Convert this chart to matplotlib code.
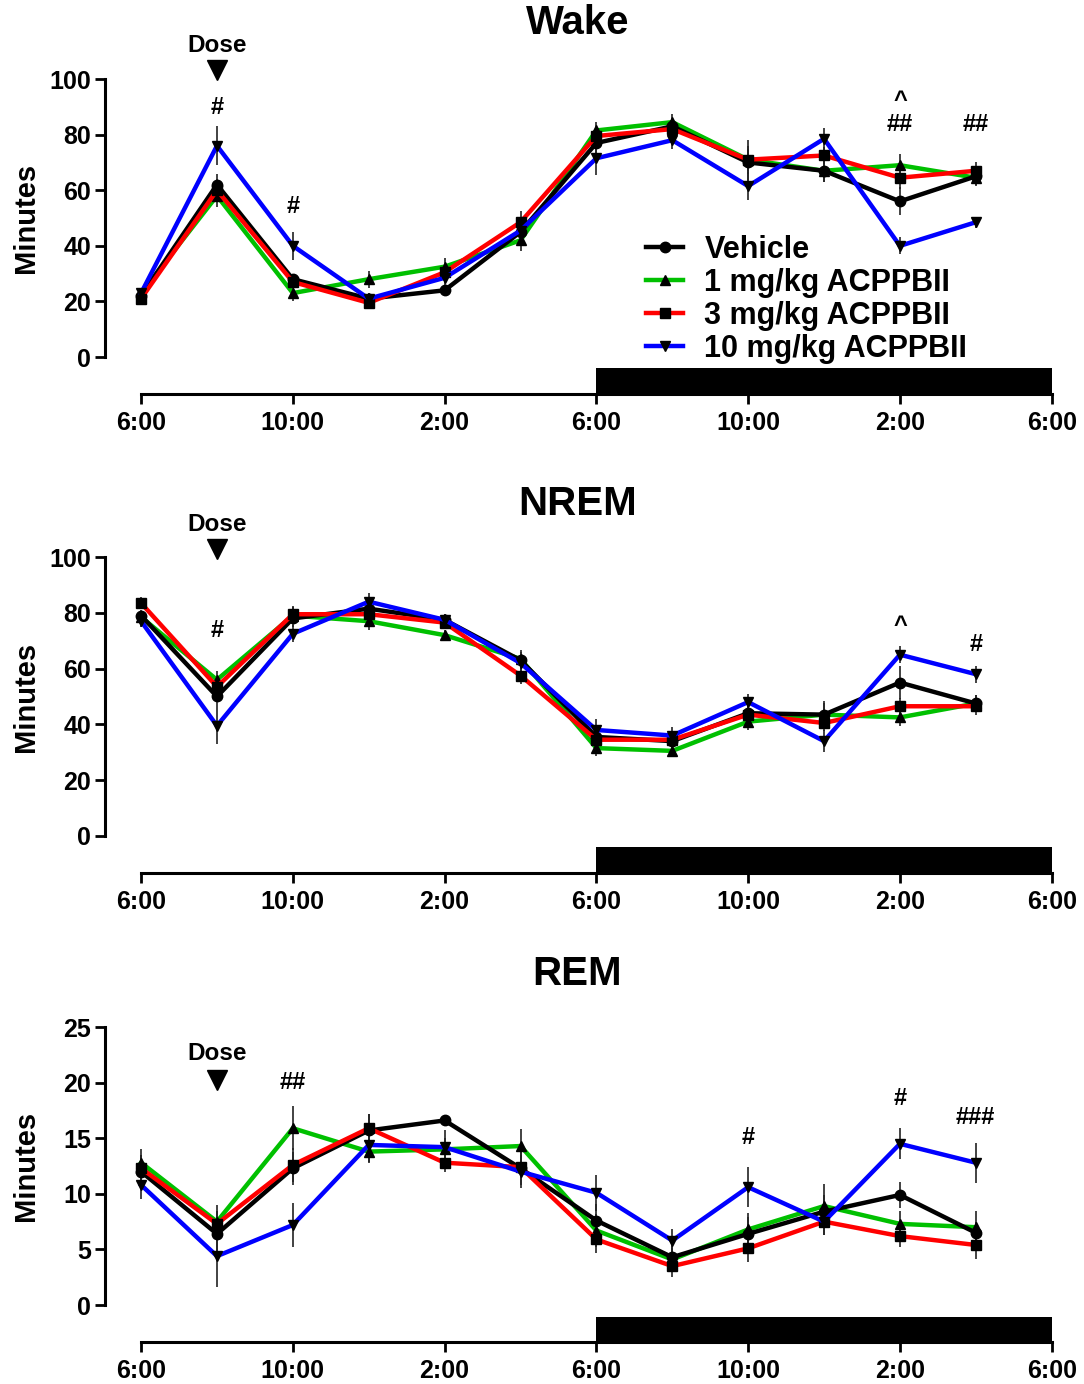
import numpy as np
import matplotlib
matplotlib.use("Agg")
import matplotlib.pyplot as plt

plt.rcParams['font.family'] = ['Liberation Sans', 'DejaVu Sans']
plt.rcParams['font.weight'] = 'bold'

# hours after 6:00, one point every 2 h
hours = [0, 2, 4, 6, 8, 10, 12, 14, 16, 18, 20, 22]
tick_pos = [0, 4, 8, 12, 16, 20, 24]
tick_labels = ['6:00', '10:00', '2:00', '6:00', '10:00', '2:00', '6:00']
groups = ['Vehicle', '1 mg/kg ACPPBII', '3 mg/kg ACPPBII', '10 mg/kg ACPPBII']

# Wake (minutes per 2 h)
wake_veh = [22, 62, 28, 21, 24, 45, 77, 83, 70, 67, 56, 65]
wake_1 = [23, 58, 23, 28, 32.5, 42, 81.5, 84.5, 71, 67, 69, 64.5]
wake_3 = [21, 60, 27, 19.5, 30.5, 48.5, 79.5, 82, 71, 72.5, 64.5, 67]
wake_10 = [23, 76, 40, 21, 28.5, 45.5, 71.5, 78, 61.5, 78.5, 40, 48.5]
wake_veh_err = [1.5, 4, 2, 2, 1.5, 3, 4, 3, 8, 4, 5, 3]
wake_1_err = [1.5, 4, 3, 3, 3, 4, 3, 3, 5, 4, 4, 3]
wake_3_err = [1.5, 4, 3, 2, 3, 4, 3, 3, 4, 3, 4, 3]
wake_10_err = [1.5, 7, 5, 2, 3, 3, 6, 3, 5, 4, 3, 2]

# NREM
nrem_veh = [79, 50, 78, 81.5, 77.5, 63, 35.5, 34, 44, 43.5, 55, 47.5]
nrem_1 = [78.5, 56, 79, 77, 72, 63.5, 31.5, 30.5, 41, 43.5, 42.5, 47.5]
nrem_3 = [83.5, 53.5, 79.5, 79.5, 76.5, 57.5, 34.5, 34.5, 43.5, 40.5, 46.5, 46.5]
nrem_10 = [77, 39.5, 72.5, 84, 77.5, 62, 38, 36, 48, 34, 65, 58]
nrem_veh_err = [2, 4, 3, 3, 2, 3, 3, 3, 4, 5, 6, 3]
nrem_1_err = [2, 3, 3, 3, 2, 3, 3, 2, 3, 4, 3, 3]
nrem_3_err = [2, 3, 3, 3, 2, 3, 3, 2, 3, 3, 3, 3]
nrem_10_err = [2, 6.5, 3, 3, 2, 3, 4, 3, 3, 4, 3, 3]

# REM
rem_veh = [12, 6.4, 12.3, 15.7, 16.6, 12.3, 7.6, 4.3, 6.4, 8.4, 9.9, 6.5]
rem_1 = [12.8, 7.5, 15.9, 13.8, 14, 14.3, 6.7, 4.1, 6.8, 8.9, 7.3, 7.0]
rem_3 = [12.3, 7.3, 12.6, 15.9, 12.8, 12.4, 5.9, 3.5, 5.1, 7.5, 6.2, 5.4]
rem_10 = [10.8, 4.4, 7.2, 14.4, 14.2, 12, 10.1, 5.8, 10.6, 7.5, 14.5, 12.8]
rem_veh_err = [1.5, 1.5, 1.5, 1.5, 0.5, 1.5, 1.5, 1, 1.5, 1.5, 1.2, 1]
rem_1_err = [1.2, 1.5, 2, 1, 1, 1.5, 1.5, 1, 1.5, 2, 1.2, 1.5]
rem_3_err = [1.2, 1.2, 1.5, 1.3, 0.8, 1, 1.2, 1, 1.2, 1.2, 1, 1.3]
rem_10_err = [1.3, 2.8, 2, 1.5, 1.5, 1.5, 1.6, 1, 1.8, 1.2, 1.4, 1.8]

colors = {'Vehicle': 'black', '1 mg/kg ACPPBII': '#00c000',
          '3 mg/kg ACPPBII': '#ff0000', '10 mg/kg ACPPBII': '#0000ff'}
markers = {'Vehicle': 'o', '1 mg/kg ACPPBII': '^',
           '3 mg/kg ACPPBII': 's', '10 mg/kg ACPPBII': 'v'}
# drawing order: green, black, red, blue
draw_order = ['1 mg/kg ACPPBII', 'Vehicle', '3 mg/kg ACPPBII', '10 mg/kg ACPPBII']

panels = [
    dict(title='Wake', ymax=100, step=20, ybot=-13.3, bar=-4.0,
         rect=[0.0969, 0.7153, 0.8838, 0.2276],
         data={'Vehicle': (wake_veh, wake_veh_err), '1 mg/kg ACPPBII': (wake_1, wake_1_err),
               '3 mg/kg ACPPBII': (wake_3, wake_3_err), '10 mg/kg ACPPBII': (wake_10, wake_10_err)},
         title_y=120.0, dose_y=112.2, tri_y=103.2,
         marks=[(2, 89.6, '#'), (4, 54.3, '#'), (20, 92.4, '^'), (20, 83.8, '##'), (22, 83.8, '##')]),
    dict(title='NREM', ymax=100, step=20, ybot=-13.3, bar=-4.0,
         rect=[0.0969, 0.3692, 0.8838, 0.2283],
         data={'Vehicle': (nrem_veh, nrem_veh_err), '1 mg/kg ACPPBII': (nrem_1, nrem_1_err),
               '3 mg/kg ACPPBII': (nrem_3, nrem_3_err), '10 mg/kg ACPPBII': (nrem_10, nrem_10_err)},
         title_y=119.2, dose_y=111.8, tri_y=102.9,
         marks=[(2, 73.8, '#'), (20, 75.6, '^'), (22, 68.8, '#')]),
    dict(title='REM', ymax=25, step=5, ybot=-3.33, bar=-1.08,
         rect=[0.0969, 0.0303, 0.8838, 0.2276],
         data={'Vehicle': (rem_veh, rem_veh_err), '1 mg/kg ACPPBII': (rem_1, rem_1_err),
               '3 mg/kg ACPPBII': (rem_3, rem_3_err), '10 mg/kg ACPPBII': (rem_10, rem_10_err)},
         title_y=29.8, dose_y=22.6, tri_y=20.2,
         marks=[(4, 20.0, '##'), (16, 15.1, '#'), (20, 18.6, '#'), (22, 16.9, '###')]),
]

fig = plt.figure(figsize=(10.84, 13.84), dpi=100)

for i, p in enumerate(panels):
    ax = fig.add_axes(p['rect'])
    ax.set_xlim(-0.95, 24.3)
    ax.set_ylim(p['ybot'], p['ymax'])

    for g in draw_order:
        vals, err = p['data'][g]
        ax.errorbar(hours, vals, yerr=err, fmt='none', ecolor='#222222',
                    elinewidth=1.2, capsize=0, zorder=3)
        ax.plot(hours, vals, color=colors[g], lw=3.2, marker=markers[g],
                ms=7.5, mfc='black', mec='black', zorder=4, label=g)

    # dark phase bar
    ax.fill_between([12, 24], p['ybot'], p['bar'], color='black', lw=0, clip_on=False)

    for s in ['top', 'right']:
        ax.spines[s].set_visible(False)
    ax.spines['left'].set_bounds(0, p['ymax'])
    ax.spines['bottom'].set_bounds(0, 24)
    ax.spines['left'].set_linewidth(2.2)
    ax.spines['bottom'].set_linewidth(2.2)
    ax.set_yticks(np.arange(0, p['ymax'] + 1, p['step']))
    ax.set_xticks(tick_pos)
    ax.set_xticklabels(tick_labels)
    ax.tick_params(axis='both', direction='out', length=7, width=2, labelsize=18)
    ax.tick_params(axis='x', pad=5)
    ax.tick_params(axis='y', pad=3)
    ax.set_ylabel('Minutes', fontsize=21, fontweight='bold')
    ax.yaxis.set_label_coords(-0.068, (p['ymax'] / 2 - p['ybot']) / (p['ymax'] - p['ybot']))

    ax.text(11.5, p['title_y'], p['title'], fontsize=29, fontweight='bold',
            ha='center', va='center', clip_on=False)
    ax.text(2, p['dose_y'], 'Dose', fontsize=17.5, fontweight='bold',
            ha='center', va='center', clip_on=False)
    ax.plot([2], [p['tri_y']], marker='v', ms=15, color='black', clip_on=False)
    for x, y, s in p['marks']:
        ax.text(x, y, s, fontsize=17, fontweight='bold', ha='center', va='center',
                clip_on=False)

    if i == 0:
        handles, labels = ax.get_legend_handles_labels()
        order = [labels.index(g) for g in groups]
        ax.legend([handles[k] for k in order], [labels[k] for k in order],
                  loc='upper left', bbox_to_anchor=(0.565, 0.505), frameon=False,
                  fontsize=22, handlelength=1.2, handletextpad=0.7,
                  labelspacing=0.1, borderpad=0, borderaxespad=0)

fig.savefig('out.png', dpi=100)
